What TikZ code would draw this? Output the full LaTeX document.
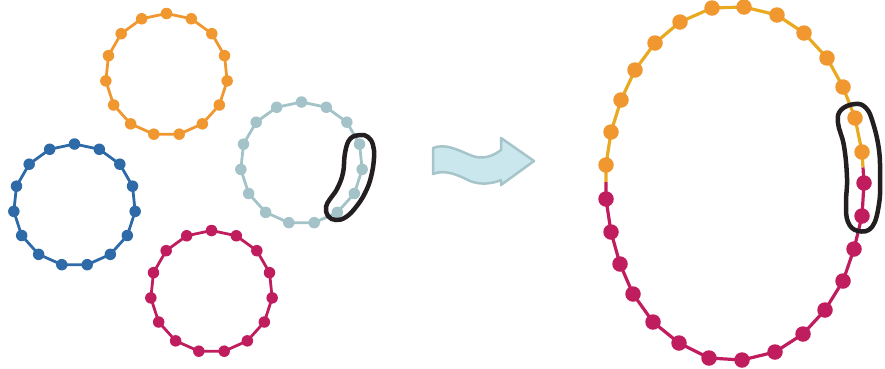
\documentclass[tikz,border=0pt]{standalone}
\usetikzlibrary{calc}
\definecolor{corange}{HTML}{F0972F}
\definecolor{cyellow}{HTML}{E9AA22}
\definecolor{cblue}{HTML}{2E6AA8}
\definecolor{cmag}{HTML}{C01D5F}
\definecolor{cgray}{HTML}{A3C3C8}
\definecolor{coutline}{HTML}{231F20}
\definecolor{afill}{HTML}{C9E7EC}
\definecolor{aline}{HTML}{A5C5CA}
\begin{document}
\begin{tikzpicture}[x=1pt,y=-1pt,
  smalldot/.style={circle,inner sep=0pt,minimum size=11.5pt,fill=#1,draw=none},
  bigdot/.style={circle,inner sep=0pt,minimum size=15.5pt,fill=#1,draw=none},
  ringline/.style={draw=#1,line width=2.8pt,line join=round},
  bigline/.style={draw=#1,line width=3.2pt,line join=round},
  blob/.style={draw=coutline,line width=4.5pt},
  wavearrow/.style={fill=afill,draw=aline,line width=2.5pt,line join=round}]
\useasboundingbox (0,0) rectangle (885,368);

% four small rings
\foreach \nm/\cx/\cy/\col in {o/166.5/74.5/corange, b/74.5/205/cblue, m/211.5/291.5/cmag, g/301.5/163/cgray}{
  \foreach \k in {0,...,14}{\coordinate (\nm\k) at ($(\cx,\cy)+(-90+24*\k:61)$);}
  \draw[ringline=\col] (\nm0) \foreach \k in {1,...,14}{ -- (\nm\k)} -- cycle;
  \foreach \k in {0,...,14}{\node[smalldot=\col] (\nm-dot-\k) at (\nm\k) {};}
}

% blob on gray ring
\draw[blob] plot[smooth cycle, tension=0.7] coordinates {
  (360,135) (368,137) (373,145) (374,158) (371,177) (365,193) (356,207)
  (346,217) (336,220) (328,216) (326,207) (330,199) (337,189) (343,173)
  (345,153) (350,139)};

% wavy arrow
\draw[wavearrow] (433,148) .. controls (445,143) and (458,150) .. (470,155)
  .. controls (481,160) and (492,157) .. (501,150) -- (501,138) -- (534,161)
  -- (501,185) -- (501,180) .. controls (492,184) and (480,185) .. (470,181)
  .. controls (458,175) and (445,169) .. (433,174) -- cycle;

% big merged ring
\foreach \i/\px/\py in {0/606/165, 1/611/132, 2/621/100, 3/635/70, 4/655/43,
  5/680/22, 6/712/8, 7/744/7, 8/777/15, 9/804/33, 10/827/58, 11/843/87,
  12/855/118, 13/862/152, 14/864/183, 15/862/216, 16/854/249, 17/843/281,
  18/825/310, 19/803/334, 20/775/352, 21/742/360, 22/709/358, 23/679/343,
  24/653/322, 25/633/294, 26/620/264, 27/611/232, 28/606/199}{
  \coordinate (e\i) at (\px,\py);
}
\coordinate (mR) at ($(e13)!0.5!(e14)$);
\coordinate (mL) at ($(e28)!0.5!(e0)$);
\draw[bigline=cyellow] (mL) -- (e0) \foreach \i in {1,...,13}{ -- (e\i)} -- (mR);
\draw[bigline=cmag] (mR) -- (e14) \foreach \i in {15,...,28}{ -- (e\i)} -- (mL);
\foreach \i in {0,...,13}{\node[bigdot=corange] (ed\i) at (e\i) {};}
\foreach \i in {14,...,28}{\node[bigdot=cmag] (ed\i) at (e\i) {};}

% blob on big ring
\draw[blob] plot[smooth cycle, tension=0.7] coordinates {
  (855,104) (866,108) (873,123) (879,150) (880,178) (879,204) (872,227)
  (858,231) (848,222) (846,203) (847,178) (844,146) (838,123) (841,110)};
\end{tikzpicture}
\end{document}
